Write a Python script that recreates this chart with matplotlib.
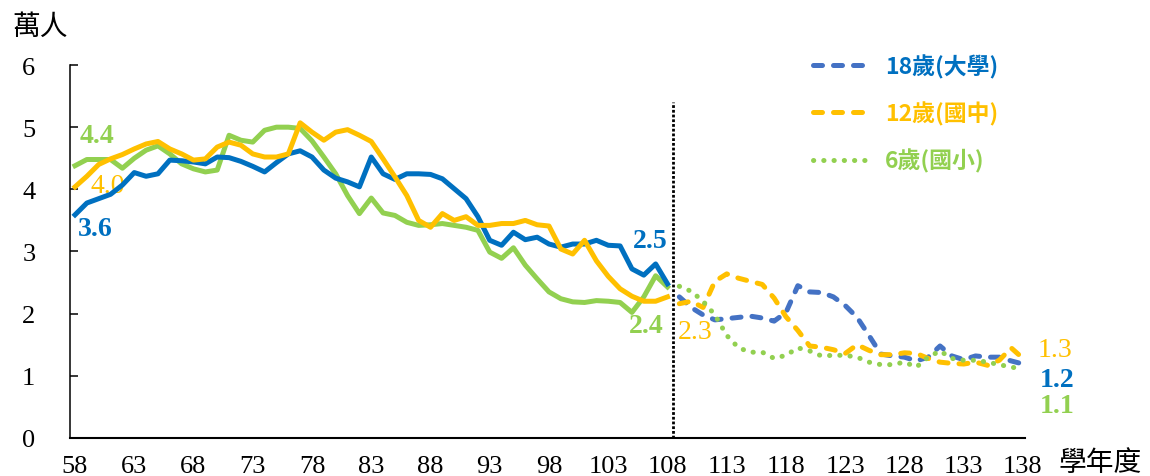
import matplotlib
matplotlib.use('Agg')
import matplotlib.pyplot as plt

# 歷年資料 58-108 學年度 (萬人)
hist_years = list(range(58, 109))
age18_hist = [3.59, 3.78, 3.85, 3.92, 4.07, 4.27, 4.21, 4.25, 4.47, 4.46,
              4.44, 4.41, 4.52, 4.51, 4.45, 4.37, 4.28, 4.43, 4.57, 4.62,
              4.52, 4.31, 4.18, 4.12, 4.04, 4.52, 4.25, 4.16, 4.25, 4.25,
              4.24, 4.17, 4.01, 3.85, 3.56, 3.18, 3.10, 3.31, 3.19, 3.23,
              3.12, 3.07, 3.12, 3.12, 3.18, 3.10, 3.09, 2.72, 2.62, 2.80,
              2.48]
age12_hist = [4.04, 4.21, 4.40, 4.49, 4.56, 4.65, 4.73, 4.77, 4.65, 4.57,
              4.47, 4.49, 4.68, 4.76, 4.71, 4.57, 4.52, 4.52, 4.57, 5.07,
              4.92, 4.79, 4.92, 4.96, 4.87, 4.77, 4.49, 4.20, 3.90, 3.50,
              3.39, 3.61, 3.50, 3.56, 3.42, 3.42, 3.45, 3.45, 3.50, 3.43,
              3.41, 3.04, 2.96, 3.18, 2.85, 2.60, 2.40, 2.28, 2.20, 2.20,
              2.27]
age6_hist = [4.38, 4.48, 4.48, 4.48, 4.34, 4.50, 4.63, 4.70, 4.57, 4.41,
             4.33, 4.28, 4.31, 4.87, 4.79, 4.76, 4.95, 5.00, 5.00, 4.98,
             4.78, 4.52, 4.25, 3.90, 3.61, 3.86, 3.62, 3.58, 3.47, 3.42,
             3.43, 3.45, 3.42, 3.39, 3.34, 2.99, 2.89, 3.06, 2.78, 2.56,
             2.35, 2.24, 2.19, 2.18, 2.21, 2.20, 2.18, 2.02, 2.27, 2.61,
             2.43]

# 推估 109-138 學年度
proj_years = list(range(109, 139))
age18_proj = [2.27, 2.10, 1.98, 1.90, 1.92, 1.94, 1.96, 1.93, 1.88, 2.02,
              2.45, 2.35, 2.34, 2.27, 2.13, 1.94, 1.65, 1.35, 1.32, 1.30,
              1.24, 1.30, 1.48, 1.32, 1.26, 1.32, 1.30, 1.30, 1.24, 1.19]
age12_proj = [2.16, 2.20, 2.10, 2.52, 2.64, 2.57, 2.52, 2.47, 2.25, 1.95,
              1.73, 1.48, 1.46, 1.42, 1.36, 1.50, 1.41, 1.34, 1.34, 1.37,
              1.36, 1.28, 1.22, 1.20, 1.19, 1.22, 1.17, 1.25, 1.45, 1.28]
age6_proj = [2.44, 2.36, 2.20, 1.98, 1.65, 1.45, 1.38, 1.38, 1.28, 1.33,
             1.45, 1.40, 1.32, 1.33, 1.33, 1.30, 1.22, 1.18, 1.18, 1.22,
             1.14, 1.30, 1.40, 1.28, 1.25, 1.25, 1.22, 1.18, 1.14, 1.11]

legend_labels = ['18歲(大學)', '12歲(國中)', '6歲(國小)']
x_ticks = list(range(58, 139, 5))

blue = '#0070C0'
blue2 = '#4472C4'
yellow = '#FFC000'
green = '#92D050'
cjk = ['Noto Sans CJK TC', 'DejaVu Sans']
serif = 'Liberation Serif'

fig = plt.figure(figsize=(11.5, 4.77), dpi=100)
ax = fig.add_axes([0.0609, 0.0797, 0.8304, 0.7819])

lw = 3.6
ax.plot(hist_years, age6_hist, color=green, lw=lw, solid_joinstyle='round')
ax.plot(hist_years, age18_hist, color=blue, lw=lw, solid_joinstyle='round')
ax.plot(hist_years, age12_hist, color=yellow, lw=lw, solid_joinstyle='round')

l18, = ax.plot(proj_years, age18_proj, color=blue2, lw=lw,
               linestyle=(0, (1.8, 2.2)), dash_capstyle='round')
l12, = ax.plot(proj_years, age12_proj, color=yellow, lw=lw,
               linestyle=(0, (1.8, 2.2)), dash_capstyle='round')
l6, = ax.plot(proj_years, age6_proj, color=green, lw=lw,
              linestyle=(0, (0.05, 2.0)), dash_capstyle='round')

# 推估分隔線
ax.vlines(108.5, 0, 5.4, colors='black', linestyles=(0, (1, 0.7)), lw=2)

ax.set_xlim(57.58, 138.17)
ax.set_ylim(0, 6)
ax.set_xticks(x_ticks)
ax.set_yticks(range(0, 7))
for s in ['top', 'right']:
    ax.spines[s].set_visible(False)
ax.spines['left'].set_linewidth(1.1)
ax.spines['bottom'].set_linewidth(1.5)
ax.tick_params(axis='y', direction='in', length=6, width=1.1, pad=25)
ax.tick_params(axis='x', length=0, pad=12)
for t in ax.get_xticklabels() + ax.get_yticklabels():
    t.set_fontfamily(serif)
    t.set_fontsize(19)

# 數值標註
def lab(x, y, txt, color, dx, dy, bold=True):
    ax.annotate(txt, xy=(x, y), xytext=(dx, dy), textcoords='offset points',
                ha='center', va='center', color=color, fontsize=20,
                fontfamily=serif, fontweight='bold' if bold else 'normal',
                zorder=1)

lab(hist_years[0], age18_hist[0], f'{age18_hist[0]:.1f}', blue, 14.4, -10)
lab(hist_years[0], age12_hist[0], f'{age12_hist[0]:.1f}', yellow, 23.8, 0.7, False)
lab(hist_years[0], age6_hist[0], f'{age6_hist[0]:.1f}', green, 15.8, 21.6)
lab(hist_years[-1], age18_hist[-1], f'{age18_hist[-1]:.1f}', blue, -12.2, 31)
lab(hist_years[-1], age6_hist[-1], f'{age6_hist[-1]:.1f}', green, -15, -28)
lab(hist_years[-1], age12_hist[-1], f'{age12_hist[-1]:.1f}', yellow, 20, -25, False)
lab(proj_years[-1], age12_proj[-1], f'{age12_proj[-1]:.1f}', yellow, 23, 6.5, False)
lab(proj_years[-1], age18_proj[-1], f'{age18_proj[-1]:.1f}', blue, 24.5, -11.5)
lab(proj_years[-1], age6_proj[-1], f'{age6_proj[-1]:.1f}', green, 24.5, -26.6)

leg = ax.legend([l18, l12, l6], legend_labels, loc='upper left',
                bbox_to_anchor=(0.778, 1.03), frameon=False, borderpad=0,
                borderaxespad=0, handlelength=2.62, handletextpad=0.52,
                labelspacing=1.0,
                prop={'family': cjk, 'weight': 'bold', 'size': 16.5})
for t, c in zip(leg.get_texts(), [blue, yellow, green]):
    t.set_color(c)

fig.text(0.0348, 0.943, '萬人', fontsize=20, family=cjk, ha='center', va='center')
fig.text(0.957, 0.029, '學年度', fontsize=20, family=cjk, ha='center', va='center')

fig.savefig('out.png', dpi=100)
